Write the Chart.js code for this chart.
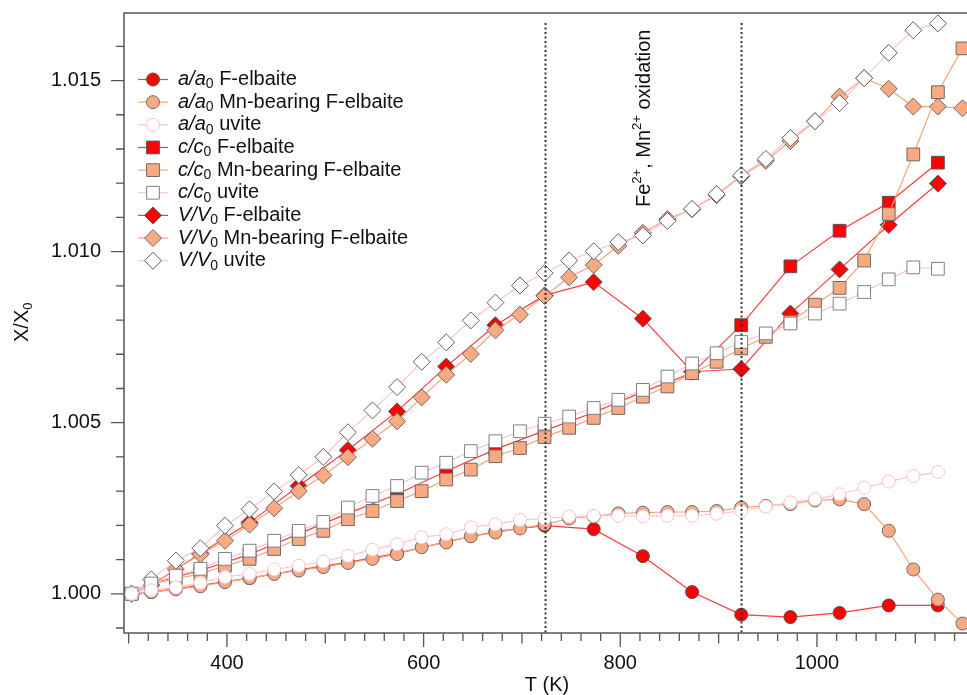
<!DOCTYPE html>
<html>
<head>
<meta charset="utf-8">
<script src="https://cdn.jsdelivr.net/npm/chart.js@4.4.1/dist/chart.umd.min.js"></script>
<style>
  html, body { margin: 0; padding: 0; background: #fff; overflow: hidden; }
  canvas { display: block; }
</style>
</head>
<body>
<canvas id="thermalChart" width="967" height="695"></canvas>
<script>
// temperatures (K)
const tempsUvite = [303, 323, 348, 373, 398, 423, 448, 473, 498, 523, 548, 573, 598, 623, 648, 673, 698, 723, 748, 773,
  798, 823, 848, 873, 898, 923, 948, 973, 998, 1023, 1048, 1073, 1098, 1123];
const tempsMn = [303, 323, 348, 373, 398, 423, 448, 473, 498, 523, 548, 573, 598, 623, 648, 673, 698, 723, 748, 773,
  798, 823, 848, 873, 898, 923, 948, 973, 998, 1023, 1048, 1073, 1098, 1123, 1148];
const tempsFe = [303, 323, 373, 423, 473, 523, 573, 623, 673, 723, 773, 823, 873, 923, 973, 1023, 1073, 1123];

// a/a0
const aFe = [1.00000, 1.00005, 1.00025, 1.00046, 1.00070, 1.00092, 1.00118, 1.00152, 1.00182, 1.00199,
  1.00189, 1.00110, 1.00005, 0.99939, 0.99932, 0.99944, 0.99966, 0.99966];
const aMn = [1.00000, 1.00005, 1.00013, 1.00022, 1.00034, 1.00046, 1.00058, 1.00068, 1.00078, 1.00090,
  1.00102, 1.00116, 1.00136, 1.00150, 1.00168, 1.00179, 1.00191, 1.00203, 1.00220, 1.00226,
  1.00235, 1.00237, 1.00239, 1.00239, 1.00242, 1.00252, 1.00257, 1.00262, 1.00273, 1.00276,
  1.00262, 1.00184, 1.00071, 0.99983, 0.99913];
const aUv = [1.00000, 1.00010, 1.00019, 1.00032, 1.00049, 1.00058, 1.00071, 1.00082, 1.00094, 1.00111,
  1.00129, 1.00145, 1.00165, 1.00174, 1.00194, 1.00203, 1.00216, 1.00220, 1.00226, 1.00228,
  1.00228, 1.00226, 1.00228, 1.00228, 1.00234, 1.00242, 1.00255, 1.00267, 1.00276, 1.00291,
  1.00310, 1.00328, 1.00344, 1.00356];

// c/c0
const cFe = [1.00000, 1.00030, 1.00068, 1.00115, 1.00175, 1.00235, 1.00291, 1.00358, 1.00422, 1.00477,
  1.00530, 1.00590, 1.00645, 1.00785, 1.00957, 1.01061, 1.01143, 1.01260];
const cMn = [1.00000, 1.00029, 1.00044, 1.00058, 1.00082, 1.00102, 1.00131, 1.00160, 1.00184, 1.00218,
  1.00242, 1.00271, 1.00300, 1.00334, 1.00363, 1.00402, 1.00426, 1.00458, 1.00485, 1.00514,
  1.00543, 1.00576, 1.00606, 1.00645, 1.00678, 1.00717, 1.00751, 1.00795, 1.00845, 1.00894,
  1.00974, 1.01110, 1.01284, 1.01466, 1.01594];
const cUv = [1.00000, 1.00030, 1.00053, 1.00073, 1.00102, 1.00126, 1.00155, 1.00184, 1.00210, 1.00252,
  1.00286, 1.00315, 1.00354, 1.00383, 1.00417, 1.00446, 1.00475, 1.00497, 1.00518, 1.00543,
  1.00567, 1.00596, 1.00635, 1.00673, 1.00703, 1.00736, 1.00761, 1.00790, 1.00819, 1.00848,
  1.00882, 1.00919, 1.00954, 1.00950];

// V/V0
const vFe = [1.00000, 1.00025, 1.00118, 1.00208, 1.00315, 1.00420, 1.00533, 1.00664, 1.00785, 1.00872,
  1.00911, 1.00804, 1.00649, 1.00657, 1.00819, 1.00948, 1.01078, 1.01199];
const vMn = [1.00000, 1.00025, 1.00072, 1.00115, 1.00155, 1.00202, 1.00250, 1.00300, 1.00346, 1.00399,
  1.00453, 1.00504, 1.00574, 1.00640, 1.00701, 1.00770, 1.00816, 1.00870, 1.00925, 1.00961,
  1.01017, 1.01055, 1.01095, 1.01124, 1.01165, 1.01220, 1.01265, 1.01323, 1.01381, 1.01453,
  1.01507, 1.01476, 1.01424, 1.01424, 1.01419];
const vUv = [1.00000, 1.00042, 1.00097, 1.00133, 1.00199, 1.00247, 1.00299, 1.00347, 1.00400, 1.00472,
  1.00536, 1.00604, 1.00678, 1.00735, 1.00799, 1.00851, 1.00901, 1.00937, 1.00974, 1.01001,
  1.01028, 1.01047, 1.01090, 1.01125, 1.01168, 1.01223, 1.01271, 1.01332, 1.01381, 1.01434,
  1.01507, 1.01581, 1.01647, 1.01667];

const oxidationLines = [723, 923];
const xMajorLabels = [400, 600, 800, 1000];
const yMajorLabels = [1.000, 1.005, 1.010, 1.015];

const FONT = '"Liberation Sans", Arial, Helvetica, sans-serif';

const looks = {
  fe: { fill: '#ff0000', line: '#ff3a3a', order: 2 },
  mn: { fill: '#f9aa82', line: '#f7a37a', order: 1 },
  uv: { fill: '#ffffff', line: '#ffc2cf', order: 0 }
};
const shapes = {
  a: { style: 'circle', r: 6.5 },
  c: { style: 'rect', r: 9 },
  V: { style: 'rectRot', r: 8.5 }
};

function pts(temps, vals) {
  return temps.map((t, i) => ({ x: t, y: vals[i] }));
}

function serie(axis, kind, temps, vals, name) {
  const lk = looks[kind], sh = shapes[axis];
  let edge = '#555';
  if (kind === 'mn') edge = '#6a6a6a';
  if (kind === 'uv') edge = axis === 'a' ? '#ffc0cc' : (axis === 'c' ? '#808080' : '#606060');
  return {
    label: axis + '/' + axis + '0 ' + name,
    ratio: axis + '/' + axis,
    name: name,
    data: pts(temps, vals),
    borderColor: lk.line,
    backgroundColor: lk.fill,
    borderWidth: 1.2,
    pointStyle: sh.style,
    pointRadius: sh.r,
    pointHoverRadius: sh.r,
    pointBackgroundColor: lk.fill,
    pointBorderColor: edge,
    pointBorderWidth: 1,
    order: lk.order,
    tension: 0
  };
}

const datasets = [
  serie('a', 'fe', tempsFe, aFe, 'F-elbaite'),
  serie('a', 'mn', tempsMn, aMn, 'Mn-bearing F-elbaite'),
  serie('a', 'uv', tempsUvite, aUv, 'uvite'),
  serie('c', 'fe', tempsFe, cFe, 'F-elbaite'),
  serie('c', 'mn', tempsMn, cMn, 'Mn-bearing F-elbaite'),
  serie('c', 'uv', tempsUvite, cUv, 'uvite'),
  serie('V', 'fe', tempsFe, vFe, 'F-elbaite'),
  serie('V', 'mn', tempsMn, vMn, 'Mn-bearing F-elbaite'),
  serie('V', 'uv', tempsUvite, vUv, 'uvite')
];

function markerPath(ctx, style, r, x, y) {
  ctx.beginPath();
  if (style === 'circle') {
    ctx.arc(x, y, r, 0, Math.PI * 2);
  } else if (style === 'rect') {
    const s = Math.SQRT1_2 * r;
    ctx.rect(x - s, y - s, 2 * s, 2 * s);
  } else {
    ctx.moveTo(x - r, y); ctx.lineTo(x, y - r); ctx.lineTo(x + r, y); ctx.lineTo(x, y + r);
    ctx.closePath();
  }
}

// mixed text: italic ratio + subscript 0 + plain rest
function drawRuns(ctx, runs, x, y) {
  runs.forEach(run => {
    ctx.font = run.font;
    ctx.fillText(run.text, x, y + (run.dy || 0));
    x += ctx.measureText(run.text).width;
  });
  return x;
}

const decor = {
  id: 'decor',
  afterDatasetsDraw(chart) {
    const { ctx, chartArea: ca, scales: { x, y } } = chart;
    ctx.save();
    ctx.strokeStyle = '#333';
    ctx.lineWidth = 2;
    ctx.setLineDash([2, 2.5]);
    oxidationLines.forEach(t => {
      const px = Math.round(x.getPixelForValue(t)) + 0.5;
      ctx.beginPath();
      ctx.moveTo(px, ca.top + 10);
      ctx.lineTo(px, ca.bottom);
      ctx.stroke();
    });
    ctx.restore();
  },
  afterDraw(chart) {
    const { ctx, chartArea: ca, scales: { x, y } } = chart;
    ctx.save();
    // frame
    ctx.strokeStyle = '#555';
    ctx.lineWidth = 1.5;
    ctx.beginPath();
    ctx.moveTo(chart.width, ca.top);
    ctx.lineTo(ca.left, ca.top);
    ctx.lineTo(ca.left, ca.bottom);
    ctx.lineTo(chart.width, ca.bottom);
    ctx.stroke();

    // ticks
    ctx.lineWidth = 1.3;
    ctx.beginPath();
    x.ticks.forEach(t => {
      const v = Math.round(t.value);
      const px = x.getPixelForValue(t.value);
      let len = 8;
      if (xMajorLabels.includes(v)) len = 14;
      else if (v % 100 === 0) len = 10.5;
      ctx.moveTo(px, ca.bottom);
      ctx.lineTo(px, ca.bottom + len);
    });
    y.ticks.forEach(t => {
      const py = y.getPixelForValue(t.value);
      const major = yMajorLabels.some(m => Math.abs(m - t.value) < 1e-7);
      ctx.moveTo(ca.left, py);
      ctx.lineTo(ca.left - (major ? 13 : 8), py);
    });
    ctx.stroke();

    ctx.fillStyle = '#111';
    // x title
    ctx.font = '20px ' + FONT;
    ctx.textAlign = 'center';
    ctx.textBaseline = 'alphabetic';
    ctx.fillText('T (K)', 547, 691);

    // y title, rotated
    ctx.save();
    ctx.translate(28, 342);
    ctx.rotate(-Math.PI / 2);
    ctx.textAlign = 'left';
    drawRuns(ctx, [
      { text: 'X/X', font: '20px ' + FONT },
      { text: '0', font: '13px ' + FONT, dy: 4 }
    ], 0, 0);
    ctx.restore();

    // oxidation note, rotated
    ctx.save();
    ctx.translate(650, 207);
    ctx.rotate(-Math.PI / 2);
    ctx.textAlign = 'left';
    drawRuns(ctx, [
      { text: 'Fe', font: '20px ' + FONT },
      { text: '2+', font: '13px ' + FONT, dy: -9 },
      { text: ', Mn', font: '20px ' + FONT },
      { text: '2+', font: '13px ' + FONT, dy: -9 },
      { text: ' oxidation', font: '20px ' + FONT }
    ], 0, 0);
    ctx.restore();

    // legend
    const rowY = 79.5, rowStep = 22.65;
    chart.data.datasets.forEach((ds, i) => {
      const cy = rowY + i * rowStep;
      ctx.strokeStyle = ds.borderColor;
      ctx.lineWidth = 1.2;
      ctx.setLineDash([]);
      ctx.beginPath();
      ctx.moveTo(138, cy);
      ctx.lineTo(168, cy);
      ctx.stroke();
      markerPath(ctx, ds.pointStyle, ds.pointRadius, 153, cy);
      ctx.fillStyle = ds.pointBackgroundColor;
      ctx.fill();
      ctx.strokeStyle = ds.pointBorderColor;
      ctx.lineWidth = 1;
      ctx.stroke();
      ctx.fillStyle = '#111';
      ctx.textAlign = 'left';
      ctx.textBaseline = 'middle';
      drawRuns(ctx, [
        { text: ds.ratio, font: 'italic 20px ' + FONT },
        { text: '0', font: '14px ' + FONT, dy: 5 },
        { text: ' ' + ds.name, font: '20px ' + FONT }
      ], 178, cy);
    });
    ctx.restore();
  }
};

new Chart(document.getElementById('thermalChart'), {
  type: 'line',
  data: { datasets: datasets },
  options: {
    responsive: false,
    animation: false,
    events: [],
    layout: { autoPadding: false, padding: { top: 13, left: 0, right: 0, bottom: 0 } },
    plugins: { legend: { display: false }, tooltip: { enabled: false } },
    scales: {
      x: {
        type: 'linear',
        min: 295.3,
        max: 1152.6,
        grid: { display: false, drawTicks: false },
        border: { display: false },
        afterFit: s => { s.height = 62; s.paddingLeft = 0; s.paddingRight = 0; },
        ticks: {
          stepSize: 20,
          includeBounds: false,
          autoSkip: false,
          maxRotation: 0,
          minRotation: 0,
          padding: 18,
          color: '#111',
          font: { family: FONT, size: 20 },
          callback: v => xMajorLabels.includes(Math.round(v)) ? String(Math.round(v)) : ''
        }
      },
      y: {
        type: 'linear',
        min: 0.998854,
        max: 1.016974,
        grid: { display: false, drawTicks: false },
        border: { display: false },
        afterFit: s => { s.width = 124; s.paddingTop = 0; s.paddingBottom = 0; },
        ticks: {
          stepSize: 0.001,
          includeBounds: false,
          autoSkip: false,
          padding: 23,
          color: '#111',
          font: { family: FONT, size: 20 },
          callback: v => yMajorLabels.some(m => Math.abs(m - v) < 1e-7) ? v.toFixed(3) : ''
        }
      }
    }
  },
  plugins: [decor]
});
</script>
</body>
</html>
